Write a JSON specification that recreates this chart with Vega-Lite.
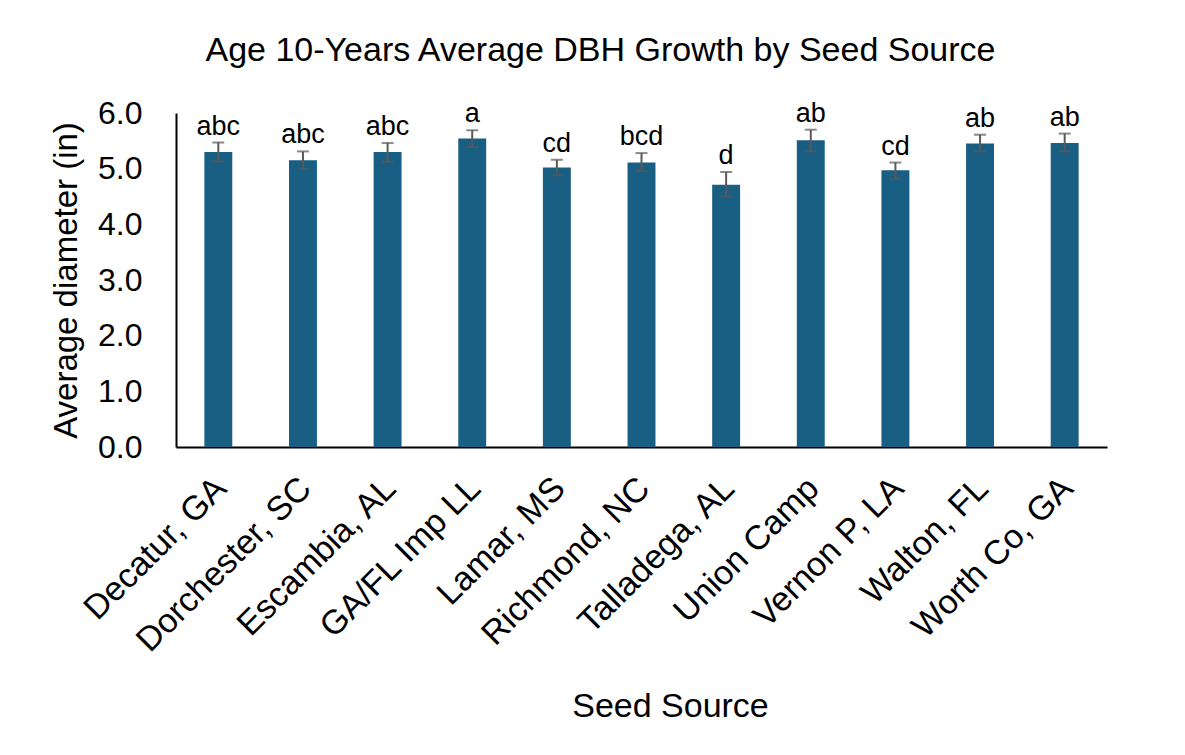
{
  "$schema": "https://vega.github.io/schema/vega-lite/v6.json",
  "width": 931,
  "height": 334,
  "autosize": "none",
  "padding": {"left": 176, "top": 113, "right": 78, "bottom": 308},
  "background": "white",
  "config": {"view": {"stroke": null}, "font": "Liberation Sans"},
  "title": {
    "text": "Age 10-Years Average DBH Growth by Seed Source",
    "font": "Liberation Sans",
    "fontSize": 34,
    "fontWeight": "normal",
    "color": "black",
    "anchor": "middle",
    "dx": -41,
    "offset": 29
  },
  "data": {
    "values": [
      {"source": "Decatur, GA", "mean": 5.30, "lo": 5.13, "hi": 5.47, "letter": "abc"},
      {"source": "Dorchester, SC", "mean": 5.15, "lo": 5.00, "hi": 5.31, "letter": "abc"},
      {"source": "Escambia, AL", "mean": 5.30, "lo": 5.12, "hi": 5.46, "letter": "abc"},
      {"source": "GA/FL Imp LL", "mean": 5.54, "lo": 5.39, "hi": 5.69, "letter": "a"},
      {"source": "Lamar, MS", "mean": 5.02, "lo": 4.88, "hi": 5.16, "letter": "cd"},
      {"source": "Richmond, NC", "mean": 5.11, "lo": 4.96, "hi": 5.28, "letter": "bcd"},
      {"source": "Talladega, AL", "mean": 4.71, "lo": 4.50, "hi": 4.94, "letter": "d"},
      {"source": "Union Camp", "mean": 5.51, "lo": 5.31, "hi": 5.70, "letter": "ab"},
      {"source": "Vernon P, LA", "mean": 4.97, "lo": 4.82, "hi": 5.11, "letter": "cd"},
      {"source": "Walton, FL", "mean": 5.45, "lo": 5.31, "hi": 5.61, "letter": "ab"},
      {"source": "Worth Co, GA", "mean": 5.46, "lo": 5.31, "hi": 5.63, "letter": "ab"}
    ]
  },
  "encoding": {
    "x": {
      "field": "source",
      "type": "nominal",
      "sort": null,
      "scale": {"paddingInner": 0.67, "paddingOuter": 0.335},
      "axis": {
        "title": "Seed Source",
        "titleFont": "Liberation Sans",
        "titleFontSize": 34,
        "titleFontWeight": "normal",
        "titleColor": "black",
        "titleX": 494,
        "titleY": 269,
        "titleBaseline": "alphabetic",
        "labelAngle": -45,
        "labelAlign": "right",
        "labelBaseline": "middle",
        "labelFontSize": 34,
        "labelColor": "black",
        "labelPadding": 36,
        "labelOffset": 3,
        "labelLimit": 500,
        "labelOverlap": false,
        "ticks": false,
        "tickSize": 0,
        "domainColor": "black",
        "domainWidth": 2
      }
    }
  },
  "layer": [
    {
      "mark": {"type": "bar", "color": "#195E83"},
      "encoding": {
        "y": {
          "field": "mean",
          "type": "quantitative",
          "scale": {"domain": [0, 6]},
          "axis": {
            "title": "Average diameter (in)",
            "titleFont": "Liberation Sans",
            "titleFontSize": 33,
            "titleFontWeight": "normal",
            "titleColor": "black",
            "titlePadding": 14,
            "values": [0, 1, 2, 3, 4, 5, 6],
            "format": ".1f",
            "labelFontSize": 32,
            "labelColor": "black",
            "labelPadding": 34,
            "ticks": false,
            "tickSize": 0,
            "grid": false,
            "domainColor": "black",
            "domainWidth": 2
          }
        }
      }
    },
    {
      "mark": {"type": "rule", "color": "#595959", "strokeWidth": 2},
      "encoding": {"y": {"field": "lo", "type": "quantitative"}, "y2": {"field": "hi"}}
    },
    {
      "mark": {"type": "tick", "color": "#595959", "thickness": 2, "size": 12, "orient": "horizontal"},
      "encoding": {"y": {"field": "lo", "type": "quantitative"}}
    },
    {
      "mark": {"type": "tick", "color": "#595959", "thickness": 2, "size": 12, "orient": "horizontal"},
      "encoding": {"y": {"field": "hi", "type": "quantitative"}}
    },
    {
      "mark": {"type": "text", "baseline": "alphabetic", "dy": -8, "fontSize": 27, "color": "black"},
      "encoding": {"y": {"field": "hi", "type": "quantitative"}, "text": {"field": "letter"}}
    }
  ]
}
